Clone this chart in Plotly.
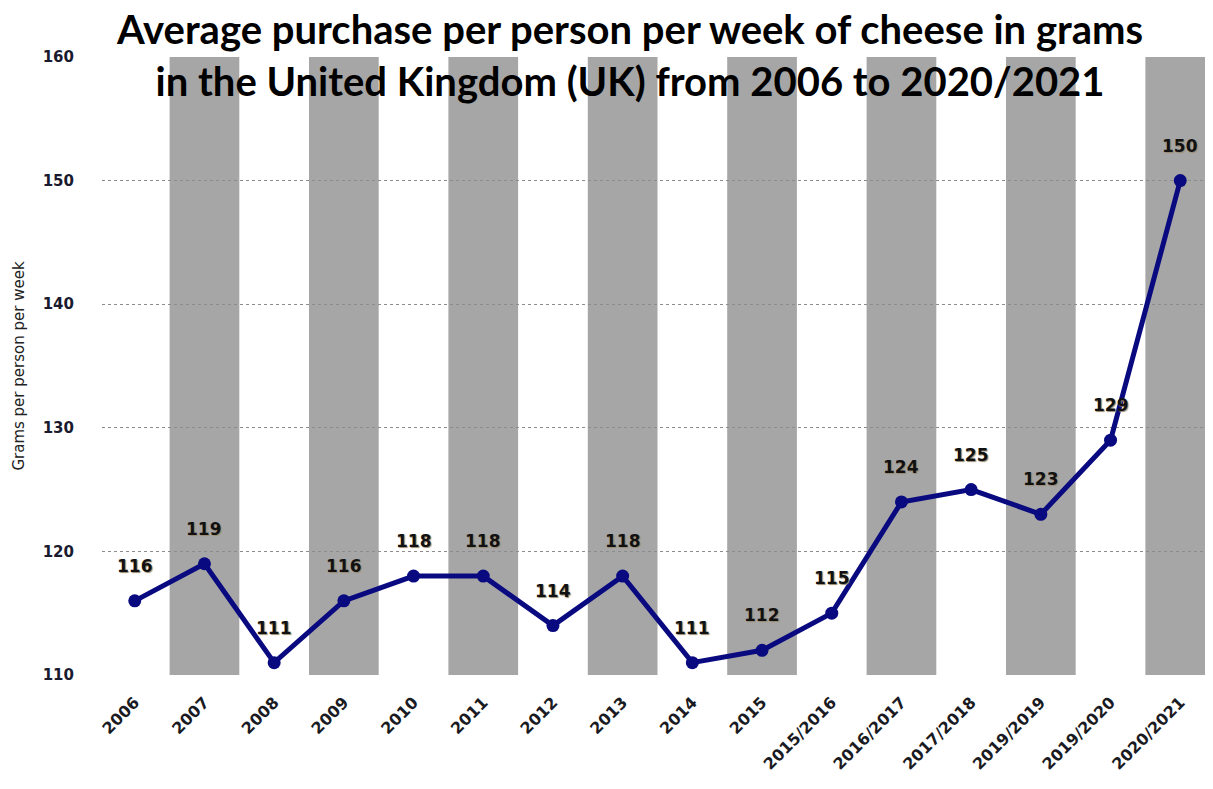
import plotly.graph_objects as go

categories = ["2006", "2007", "2008", "2009", "2010", "2011", "2012", "2013", "2014",
              "2015", "2015/2016", "2016/2017", "2017/2018", "2019/2019", "2019/2020", "2020/2021"]
values = [116, 119, 111, 116, 118, 118, 114, 118, 111, 112, 115, 124, 125, 123, 129, 150]
y_ticks = [110, 120, 130, 140, 150, 160]

title_text = ("Average purchase per person per week of cheese in grams<br>"
              "in the United Kingdom (UK) from 2006 to 2020/2021")
y_title = "Grams per person per week"

fig = go.Figure()

# alternating grey bands
shapes = []
for i in range(len(categories)):
    if i % 2 == 1:
        shapes.append(dict(type="rect", xref="x", yref="y", x0=i - 0.5, x1=i + 0.5,
                           y0=110, y1=160, fillcolor="#a6a6a6", line_width=0, layer="below"))

fig.add_trace(go.Scatter(
    x=categories, y=values, mode="lines+markers",
    line=dict(color="#0a0a80", width=5),
    marker=dict(color="#0a0a80", size=13),
    cliponaxis=False, hoverinfo="skip",
))

annotations = []
for i, v in enumerate(values):
    annotations.append(dict(x=i, y=v, xref="x", yref="y", text=f"<b>{v}</b>", showarrow=False,
                            yshift=35, font=dict(family="DejaVu Sans", size=17, color="#111111",
                                                 shadow="1px 1px 1px #9a8a70")))

annotations.append(dict(x=0.475, y=1.087, xref="paper", yref="paper", xanchor="center",
                        yanchor="top", text=f"<b>{title_text}</b>", showarrow=False,
                        font=dict(family="Lato", size=40, color="black")))

fig.update_layout(
    width=1213, height=789,
    margin=dict(l=94, r=8, t=49, b=122),
    plot_bgcolor="white", paper_bgcolor="white",
    showlegend=False,
    shapes=shapes,
    annotations=annotations,
)

fig.update_xaxes(
    type="category", range=[-0.47, 15.47], showgrid=False, zeroline=False, showline=False,
    tickangle=-45, ticks="", ticklabelstandoff=14, automargin=False,
    tickfont=dict(family="DejaVu Sans", size=16, color="#1a1a22", weight="bold"),
)
fig.update_yaxes(
    range=[110, 160], tickvals=y_ticks, showgrid=True, gridcolor="#8c8c8c", griddash="dot",
    gridwidth=1, zeroline=False, showline=False, ticks="", ticklabelstandoff=27, automargin=False,
    tickfont=dict(family="DejaVu Sans", size=15, color="#1a1a2e", weight="bold"),
    title=dict(text=y_title, standoff=14, font=dict(family="DejaVu Sans", size=15, color="#222222")),
)

fig.write_html("out.html")
